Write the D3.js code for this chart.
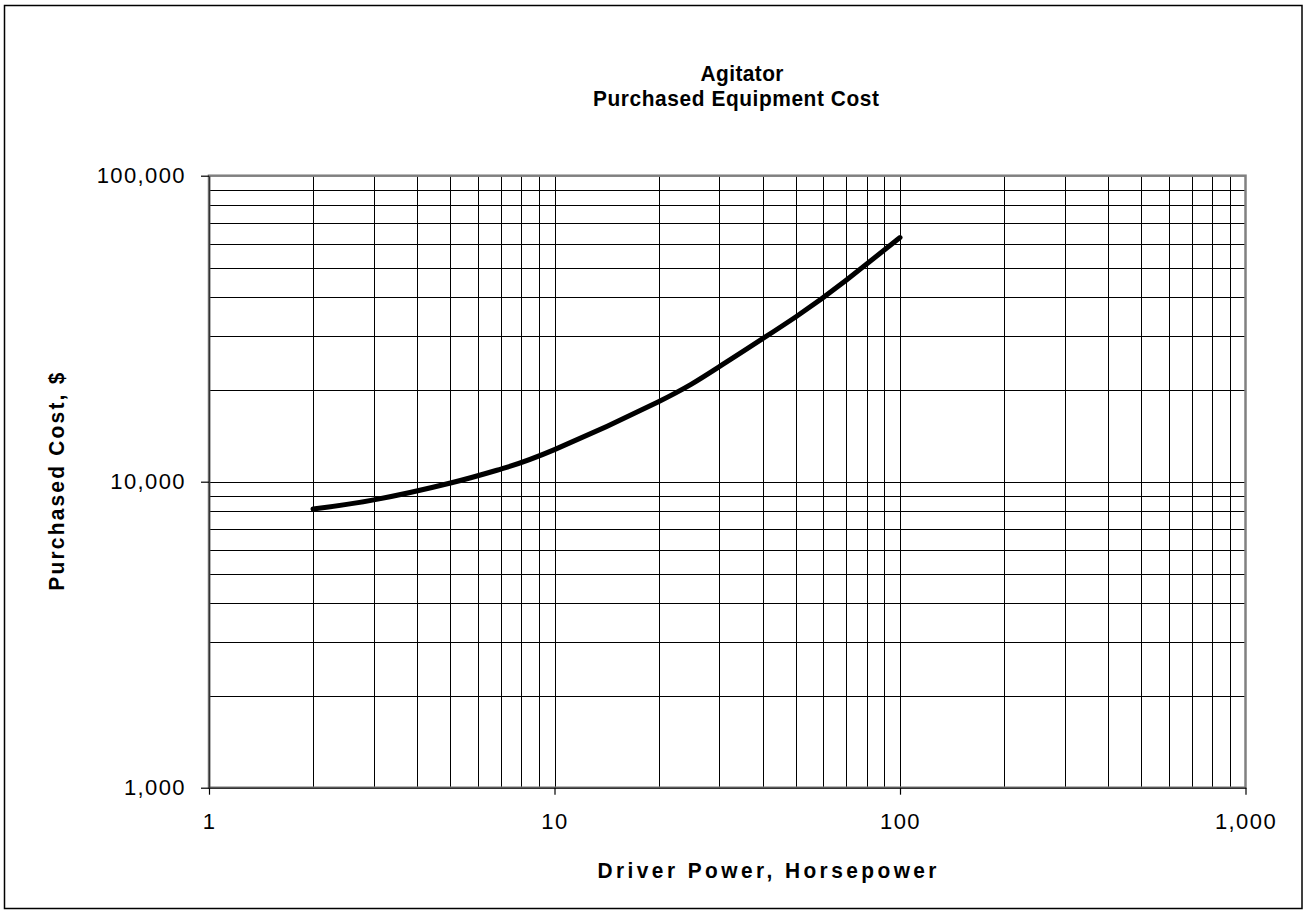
<!DOCTYPE html>
<html>
<head>
<meta charset="utf-8">
<script src="https://cdn.jsdelivr.net/npm/d3@7"></script>
<style>
  body { margin: 0; background: #fff; }
  text { font-family: Arial, "Liberation Sans", sans-serif; fill: #000; }
</style>
</head>
<body>
<div id="chart"></div>
<script>
// curve: driver power (hp) vs purchased cost ($)
const power = [2, 3, 5, 7, 10, 20, 30, 50, 70, 100];
const cost = [8140, 8720, 9900, 11000, 12730, 18250, 23760, 34610, 45600, 62800];

const xTicks = [1, 10, 100, 1000];
const yTicks = [1000, 10000, 100000];
const titleLines = ["Agitator", "Purchased Equipment Cost"];

const W = 1307, H = 914;
const margin = { top: 175.7, right: 61.5, bottom: 126.3, left: 209 };

const svg = d3.select("#chart").append("svg")
    .attr("width", W)
    .attr("height", H);

// outer chart border
svg.append("rect")
    .attr("x", 4.5).attr("y", 5.5)
    .attr("width", W - 9.5).attr("height", H - 11)
    .attr("fill", "none")
    .attr("stroke", "#000")
    .attr("stroke-width", 1.5);

const x = d3.scaleLog().domain([1, 1000]).range([margin.left, W - margin.right]);
const y = d3.scaleLog().domain([1000, 100000]).range([H - margin.bottom, margin.top]);

// minor + major gridlines (1..9 in every decade)
const gridX = [];
[1, 10, 100].forEach(d => { for (let k = 2; k <= 10; k++) gridX.push(d * k); });
const gridY = [];
[1000, 10000].forEach(d => { for (let k = 2; k <= 10; k++) gridY.push(d * k); });

const grid = svg.append("g").attr("shape-rendering", "crispEdges");
grid.selectAll("line.gx").data(gridX.filter(v => v < 1000)).enter().append("line")
    .attr("class", "gx")
    .attr("x1", d => Math.round(x(d)) + 0.5).attr("x2", d => Math.round(x(d)) + 0.5)
    .attr("y1", y(100000)).attr("y2", y(1000))
    .attr("stroke", "#000").attr("stroke-width", 1);
grid.selectAll("line.gy").data(gridY.filter(v => v < 100000)).enter().append("line")
    .attr("class", "gy")
    .attr("x1", x(1)).attr("x2", x(1000))
    .attr("y1", d => Math.round(y(d)) + 0.5).attr("y2", d => Math.round(y(d)) + 0.5)
    .attr("stroke", "#000").attr("stroke-width", 1);

// plot area frame
svg.append("rect")
    .attr("x", x(1)).attr("y", y(100000))
    .attr("width", x(1000) - x(1)).attr("height", y(1000) - y(100000))
    .attr("fill", "none")
    .attr("stroke", "#808080")
    .attr("stroke-width", 2.5);

// axes
const xAxis = d3.axisBottom(x)
    .tickValues(xTicks)
    .tickFormat(d3.format(","))
    .tickSizeInner(7).tickSizeOuter(0).tickPadding(19);
const yAxis = d3.axisLeft(y)
    .tickValues(yTicks)
    .tickFormat(d3.format(","))
    .tickSizeInner(8).tickSizeOuter(0).tickPadding(15);

const gx = svg.append("g").attr("transform", `translate(0,${y(1000)})`).call(xAxis);
const gy = svg.append("g").attr("transform", `translate(${x(1)},0)`).call(yAxis);
[gx, gy].forEach(g => {
    g.select(".domain").attr("stroke", "#333").attr("stroke-width", 1.5);
    g.selectAll(".tick line").attr("stroke", "#000").attr("stroke-width", 1.2);
    g.selectAll(".tick text")
        .style("font-size", "22px")
        .style("letter-spacing", "1.4px")
        .attr("fill", "#000");
});

// the cost curve
const line = d3.line()
    .x(d => x(d[0]))
    .y(d => y(d[1]))
    .curve(d3.curveNatural);

svg.append("path")
    .datum(power.map((p, i) => [p, cost[i]]))
    .attr("d", line)
    .attr("fill", "none")
    .attr("stroke", "#000")
    .attr("stroke-width", 5)
    .attr("stroke-linecap", "round")
    .attr("stroke-linejoin", "round");

// bold labels, slightly narrowed and spread to the reference widths
function boldLabel(cx, cy, rot, txt, len) {
    svg.append("g")
        .attr("transform", `translate(${cx},${cy}) rotate(${rot}) scale(0.95,1)`)
        .append("text")
        .attr("text-anchor", "middle")
        .attr("textLength", len / 0.95)
        .attr("lengthAdjust", "spacing")
        .style("font-size", "22px")
        .style("font-weight", "bold")
        .text(txt);
}

boldLabel(742, 81, 0, titleLines[0], 83);
boldLabel(736, 106, 0, titleLines[1], 286);
boldLabel(767, 878, 0, "Driver Power, Horsepower", 339);
boldLabel(64, (y(1000) + y(100000)) / 2, -90, "Purchased Cost, $", 218);
</script>
</body>
</html>
